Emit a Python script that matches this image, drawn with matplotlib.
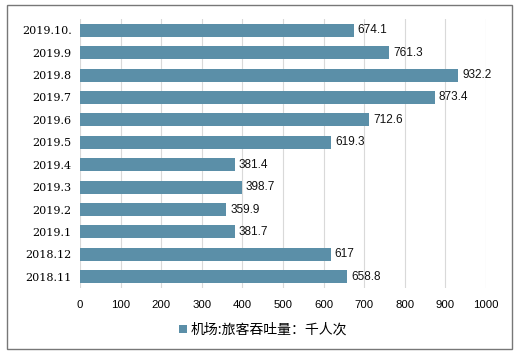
import matplotlib
matplotlib.use("Agg")
import matplotlib.pyplot as plt
from matplotlib.patches import Rectangle

categories = ["2019.10.", "2019.9", "2019.8", "2019.7", "2019.6", "2019.5",
              "2019.4", "2019.3", "2019.2", "2019.1", "2018.12", "2018.11"]
values = [674.1, 761.3, 932.2, 873.4, 712.6, 619.3, 381.4, 398.7, 359.9, 381.7, 617, 658.8]
value_labels = ["674.1", "761.3", "932.2", "873.4", "712.6", "619.3",
                "381.4", "398.7", "359.9", "381.7", "617", "658.8"]
xticks = [0, 100, 200, 300, 400, 500, 600, 700, 800, 900, 1000]
series_name = "机场:旅客吞吐量：千人次"

plt.rcParams['font.family'] = ['Noto Sans CJK SC', 'DejaVu Sans']

fig = plt.figure(figsize=(5.18, 3.56), dpi=100)
ax = fig.add_axes([80/518, 1-288/356, 406/518, 269/356])

color = "#5b8fa8"
ypos = list(range(len(categories)))
ax.barh(ypos, values, height=0.58, color=color, zorder=3, label=series_name)
ax.set_ylim(len(categories) - 0.5, -0.5)
ax.set_xlim(0, 1000)
ax.set_xticks(xticks)
ax.set_xticklabels([str(t) for t in xticks], fontsize=8.2, family=['Liberation Sans'])
ax.set_yticks(ypos)
ax.set_yticklabels(categories, fontsize=8, family=['DejaVu Serif'])
ax.tick_params(length=0, pad=6)
ax.tick_params(axis='x', pad=9)
ax.grid(axis='x', color='#d9d9d9', linewidth=0.8, zorder=0)
for s in ax.spines.values():
    s.set_visible(False)

for y, v, lab in zip(ypos, values, value_labels):
    ax.text(v + 10, y, lab, va='center', ha='left', fontsize=8.5,
            family=['Liberation Sans'], color='#111111')

leg = fig.legend(loc='center', bbox_to_anchor=(263/518, 1-330/356), frameon=False,
                 fontsize=10, handlelength=0.55, handleheight=0.55, handletextpad=0.25)

fig.patches.append(Rectangle((7/518, 1-349/356), 505/518, 344/356, transform=fig.transFigure,
                             fill=False, edgecolor='#777777', linewidth=1))

fig.savefig("out.png", dpi=100)
